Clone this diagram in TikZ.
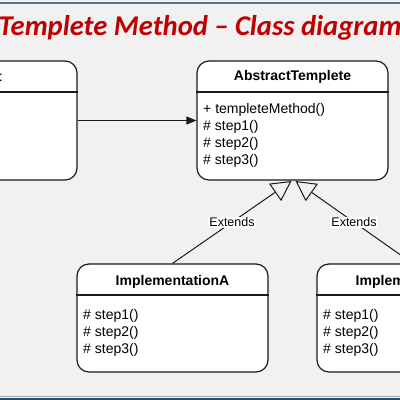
\documentclass[tikz,border=0pt]{standalone}
\usepackage{fontspec}
\setmainfont{Liberation Sans}
\newfontfamily\titlefont{Carlito}
\usetikzlibrary{arrows.meta,calc}
\definecolor{bgc}{HTML}{F1F1F1}
\definecolor{titlered}{HTML}{C00000}
\definecolor{topblue}{HTML}{56708F}
\definecolor{botblue}{HTML}{1F4E79}
\definecolor{linec}{HTML}{1A1A1A}
\tikzset{
  umlbox/.style={draw=linec, line width=1.2pt, fill=white, rounded corners=12pt, rectangle, inner sep=0pt},
  sepline/.style={draw=linec, line width=1.1pt},
  headtext/.style={font=\fontsize{14}{16}\selectfont\bfseries, inner sep=0pt, anchor=base},
  bodytext/.style={font=\fontsize{14}{17}\selectfont, inner sep=0pt, anchor=north west, align=left},
  lbl/.style={font=\fontsize{12.5}{14}\selectfont, fill=white, inner sep=1pt},
  ext/.style={draw=linec, line width=1pt, -{Triangle[open,length=20pt,width=21pt,line width=1pt]}},
  assoc/.style={draw=linec, line width=1pt, -{Triangle[length=10pt,width=8pt]}}
}
\begin{document}
\begin{tikzpicture}[x=1pt,y=-1pt]
\useasboundingbox (0,0) rectangle (400,400);
\clip (0,0) rectangle (400,400);
\fill[bgc] (0,0) rectangle (400,400);
\draw[topblue, line width=2pt] (0,3) -- (400,3);
\draw[gray!70, line width=0.8pt] (0,396.5) -- (400,396.5);
\fill[botblue] (0,397.5) rectangle (400,400);
% title
\node[anchor=base west, inner sep=0pt, text=titlered, font=\titlefont\fontsize{28.6}{32}\selectfont\bfseries\itshape] (title) at (-1.5,35) {Templete Method – Class diagram};
% boxes
\node[umlbox, minimum width=191pt, minimum height=119pt] (client) at (-18.5,120.5) {};
\draw[sepline] (client.west |- 0,92) -- (client.east |- 0,92);
\node[headtext, anchor=base east] (clientname) at (2,81) {Client};

\node[umlbox, minimum width=191pt, minimum height=119pt] (abs) at (292.5,120.5) {};
\draw[sepline] (abs.west |- 0,92) -- (abs.east |- 0,92);
\node[headtext] (absname) at (292.5,80.5) {AbstractTemplete};
\node[bodytext] (absbody) at (203,103.5) {+ templeteMethod()\\\# step1()\\\# step2()\\\# step3()};

\node[umlbox, minimum width=191pt, minimum height=108pt] (implA) at (172.5,318) {};
\draw[sepline] (implA.west |- 0,295) -- (implA.east |- 0,295);
\node[headtext] (implAname) at (172.5,285) {ImplementationA};
\node[bodytext] (implAbody) at (83,309.5) {\# step1()\\\# step2()\\\# step3()};

\node[umlbox, minimum width=191pt, minimum height=108pt] (implB) at (412.5,318) {};
\draw[sepline] (implB.west |- 0,295) -- (implB.east |- 0,295);
\node[headtext] (implBname) at (412.5,285) {ImplementationB};
\node[bodytext] (implBbody) at (323,309.5) {\# step1()\\\# step2()\\\# step3()};

% connectors
\draw[assoc] (client.east) -- (abs.west);
\coordinate (tipA) at (291.5,181);
\coordinate (tipB) at (295.5,181);
\draw[ext] (implA.north) -- node[lbl, pos=0.5] (extA) {Extends} (tipA);
\draw[ext] (implB.north) -- node[lbl, pos=0.5] (extB) {Extends} (tipB);
\end{tikzpicture}
\end{document}
